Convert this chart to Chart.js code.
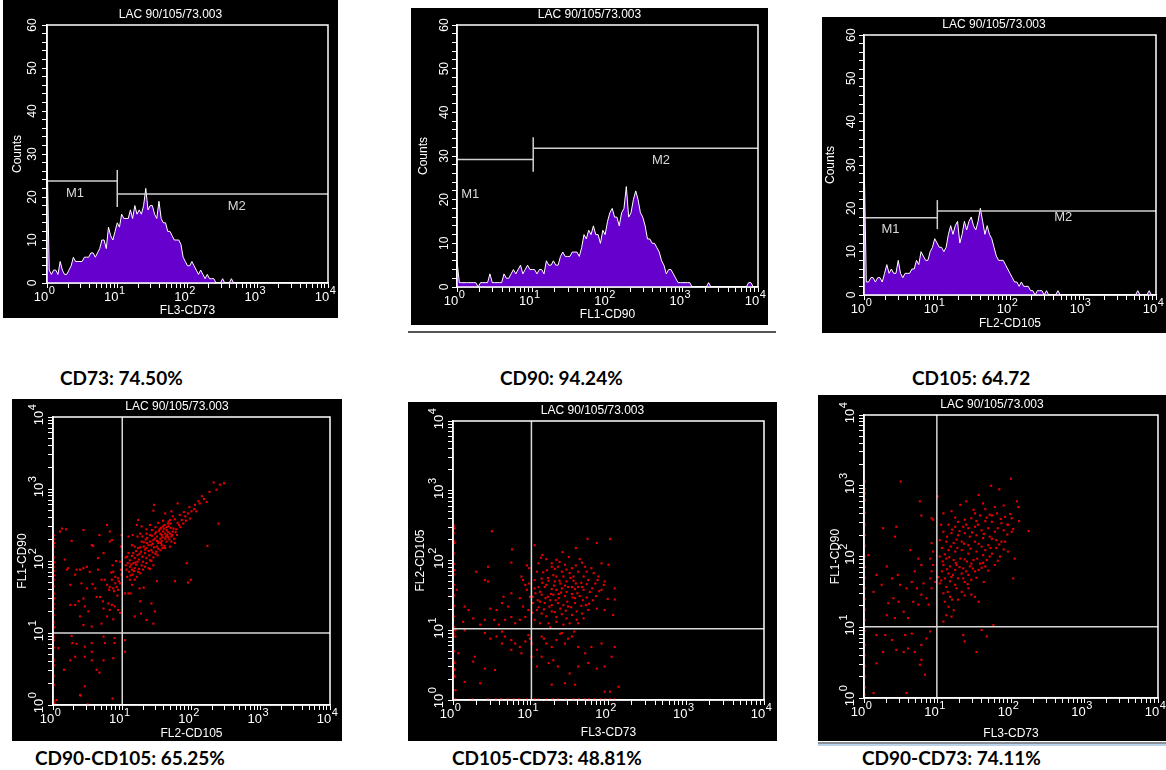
<!DOCTYPE html>
<html>
<head>
<meta charset="utf-8">
<script src="https://cdn.jsdelivr.net/npm/chart.js@4.4.1/dist/chart.umd.min.js"></script>
<style>
  body { margin: 0; background: #fff; width: 1166px; height: 770px; position: relative; overflow: hidden; }
  .panel { position: absolute; background: #000; }
  .panel canvas { display: block; }
  .caption { position: absolute; font-family: Lato, "Open Sans", sans-serif; font-weight: 700; font-size: 19px; line-height: 20px; color: #000; white-space: nowrap; }
  .rule { position: absolute; }
</style>
</head>
<body>
<script>
// decade tick labels are drawn as 10 with a raised exponent
const decadeExponents = ['0', '1', '2', '3', '4'];
const sampleName = 'LAC 90/105/73.003';

// histogram channels: one value per 1/32 decade, starting at 10^0
const channelStep = 1 / 32;
const hist73 = [31,3,2,3,3,2,5,3,2,2, 3,4,6,5,5,5,5,6,6,6, 7,7,6,7,8,10,10,8,13,11,
  10,12,14,13,16,15,15,15,17,15, 18,16,17,16,18,22,17,18,18,16, 15,19,15,14,14,12,12,11,10,10,
  10,9,6,5,4,4,5,4,3,2, 3,2,1,2,1,1,1,0,0,0, 1,0,0,0,1,0];
const hist90 = [6,1,1,1,1,1,1,1,1,0, 1,1,1,1,3,1,1,1,1,1, 3,2,2,3,4,3,4,5,3,4,
  5,4,4,4,3,4,4,3,6,5, 5,6,5,5,7,8,7,7,7,8, 8,8,7,9,12,11,13,12,14,12,
  12,10,13,12,15,17,18,16,16,14, 17,18,23,16,17,20,22,20,17,16, 14,11,11,10,10,9,8,6,5,3,
  4,4,3,2,1,1,1,1,1,1, 0,0,0,0,0,0,0,1,0,0, 0,0,0,0,0,0,0,0,0,0, 0,0,0,0,1,1,0];
const hist105 = [33,3,3,4,4,3,4,4,3,5, 7,5,6,5,5,8,5,4,5,5, 5,6,6,8,7,10,9,8,8,10,
  11,13,12,11,11,10,11,14,16,14, 16,17,12,14,17,15,17,18,16,15, 17,20,17,14,16,14,13,11,9,8,
  8,8,7,6,5,4,3,3,2,3, 2,2,2,1,1,0,1,1,1,0, 1,0,0,0,0,1,0,0,0,0, 0,0,0,0,0,0,0,0,0,0,
  0,0,0,0,0,0,0,0,0,0, 0,0,0,0,0,0,0,0,0,0, 1,0,0,0,0,1,0];

// histogram markers: [from, to, count]
const gates73 = [[1, 10, 23.7], [10, 10000, 20.7]];
const gateTick73 = [10, 17.7, 26.3];
const gateLabels73 = [['M1', 2.5, 20.9], ['M2', 501, 17.9]];
const gates90 = [[1, 10.3, 29.2], [10.3, 10000, 31.8]];
const gateTick90 = [10.3, 26.4, 34.3];
const gateLabels90 = [['M1', 1.5, 21.3], ['M2', 513, 29.1]];
const gates105 = [[1, 10.1, 17.8], [10.1, 10000, 19.4]];
const gateTick105 = [10.1, 15.2, 21.9];
const gateLabels105 = [['M1', 2.3, 15.2], ['M2', 537, 18]];

// dot plots, [x, y] pairs in decades (log10 of channel value)
const dots90v105 = [
  2.32,3.09, 2.41,3.06, 2.47,3.08, 2.26,2.96, 2.36,2.99, 2.18,2.86, 2.22,2.82, 2.12,2.80, 2.05,2.78, 1.80,2.80,
  1.46,2.78, 1.45,2.70, 2.39,2.52, 2.23,2.21, 1.93,1.97, 1.99,1.74, 1.95,1.70, 1.76,1.72, 1.50,1.72,
  1.86,2.57, 1.91,2.62, 1.95,2.66, 2.00,2.69, 2.04,2.72, 2.07,2.69, 1.98,2.59, 1.88,2.52, 1.92,2.56, 1.82,2.50,
  1.78,2.44, 1.69,2.57, 1.67,2.55, 1.62,2.66, 1.71,2.69,
  1.59,2.41, 1.62,2.38, 1.64,2.43, 1.57,2.36, 1.65,2.36, 1.69,2.38, 1.71,2.34, 1.75,2.31, 1.55,2.31, 1.50,2.34,
  1.52,2.27, 1.45,2.29, 1.40,2.27, 1.40,2.36, 1.47,2.38, 1.54,2.44, 1.59,2.48, 1.67,2.48, 1.73,2.41, 1.79,2.36,
  1.62,2.31, 1.64,2.27, 1.57,2.22, 1.50,2.20, 1.42,2.22, 1.36,2.25, 1.35,2.18, 1.42,2.15, 1.49,2.13, 1.55,2.15,
  1.62,2.18, 1.69,2.20, 1.71,2.27, 1.76,2.25, 1.31,2.20, 1.28,2.27, 1.23,2.18, 1.27,2.13, 1.33,2.11, 1.39,2.08,
  1.45,2.05, 1.51,2.08, 1.40,2.01, 1.35,2.04, 1.22,2.08, 1.18,2.04, 1.14,2.07, 1.11,2.01, 1.16,1.97, 1.22,1.99,
  1.28,1.94, 1.33,1.92, 1.18,1.90, 1.14,1.88, 1.23,1.85, 1.11,1.92, 1.07,2.06, 1.05,1.94, 1.15,1.81, 1.21,1.78,
  1.26,1.83, 1.30,1.88, 1.38,1.90, 1.18,1.74, 1.11,1.74, 1.07,1.78, 1.14,1.67, 1.04,1.55, 1.09,1.55, 1.12,1.55,
  1.25,1.62, 1.31,1.63, 1.40,1.89, 1.45,1.94, 1.18,2.20, 1.14,2.22, 1.22,2.34, 1.26,2.38, 1.28,2.48, 1.21,2.50,
  1.23,2.57, 1.40,2.50, 1.35,2.44, 1.09,2.34, 1.15,2.36, 1.05,2.05, 1.26,1.44, 1.27,1.27, 1.35,1.18, 1.45,1.13,
  1.42,1.41, 1.18,1.23, 1.47,1.30,
  1.60,2.45, 1.66,2.40, 1.58,2.33, 1.63,2.34, 1.55,2.38, 1.68,2.30, 1.52,2.25, 1.57,2.28, 1.47,2.31, 1.44,2.24,
  1.61,2.21, 1.72,2.36, 1.74,2.45, 1.84,2.47, 1.80,2.53, 1.76,2.58, 1.66,2.52, 1.38,2.14, 1.34,2.30, 1.25,2.10,
  1.20,1.95, 1.10,1.85, 1.30,1.99, 1.42,2.00, 1.48,2.10, 1.53,2.42, 1.64,2.47,
  1.36,2.32, 1.43,2.35, 1.49,2.40, 1.56,2.46, 1.61,2.50, 1.70,2.52, 1.73,2.62, 1.83,2.64, 1.89,2.68, 1.97,2.75,
  2.10,2.83, 2.15,2.90, 1.58,2.18, 1.52,2.17, 1.46,2.19, 1.33,2.16, 1.29,2.06, 1.24,2.02, 1.19,1.98, 1.13,1.95,
  1.08,1.97, 1.06,1.88, 1.12,1.80, 1.17,1.86, 1.24,1.89, 1.35,1.97, 1.44,2.12, 1.56,2.25, 1.66,2.33, 1.77,2.40,
  1.70,2.46, 1.50,2.28, 1.38,2.22, 1.31,2.26, 1.26,2.19, 1.20,2.14, 1.16,2.11, 1.09,2.11, 1.29,2.34, 1.35,2.38,
  1.43,2.43, 1.48,2.47, 1.52,2.53, 1.59,2.56, 0.90,1.78, 0.95,1.72, 0.88,1.58, 0.93,1.52, 0.84,1.84, 0.91,2.00,
  0.85,1.74, 0.90,1.69, 0.94,1.76, 0.97,1.69, 0.92,1.64, 0.87,1.62, 0.82,1.64, 0.81,1.60, 0.94,1.60, 0.99,1.81,
  0.98,1.88, 0.86,1.94, 0.85,2.29, 0.82,2.27, 0.99,2.36, 0.98,2.20, 0.97,1.99, 0.87,1.85, 0.75,1.74, 0.70,1.74,
  0.78,1.67, 0.68,1.50, 0.72,1.44, 0.80,1.41, 0.85,1.39, 0.89,1.37, 0.94,1.32, 0.97,1.28, 0.82,1.32, 0.73,1.34,
  0.78,1.23, 0.87,1.19, 0.70,1.13, 0.63,1.50, 0.57,1.68, 0.61,1.62, 0.65,1.88, 0.58,2.21, 0.56,2.22, 0.67,2.36,
  0.78,2.50, 0.82,2.41, 0.73,2.11, 0.65,2.04, 0.49,1.92, 0.53,1.85, 0.44,1.90, 0.39,1.88, 0.41,1.69, 0.34,1.88,
  0.32,1.81, 0.25,1.67, 0.22,1.90, 0.20,1.88, 0.17,2.02, 0.27,2.28, 0.44,2.43, 0.49,1.62, 0.44,1.48, 0.37,1.44,
  0.32,1.39, 0.25,1.39, 0.46,1.37, 0.51,1.30, 0.39,1.23, 0.56,1.09, 0.44,1.11, 0.19,2.44, 0.10,2.41, 0.13,2.45,
  0.27,0.96, 0.28,0.86, 0.34,0.85, 0.46,0.81, 0.56,0.86, 0.73,0.95, 0.75,0.86, 0.89,0.93, 0.89,0.86, 1.04,0.90,
  1.04,0.74, 0.08,0.79, 0.25,0.62, 0.32,0.67, 0.46,0.67, 0.56,0.74, 0.56,0.62, 0.73,0.62, 0.87,0.65, 0.16,0.49,
  0.63,0.49, 0.67,0.45, 0.46,0.26, 0.40,0.13, 0.50,0.01, 0.86,0.09, 0.05,0.07, 0.39,0.14,
  0.01,2.36, 0.01,2.30, 0.02,2.25, 0.01,2.20, 0.01,2.05, 0.02,1.98, 0.01,1.92, 0.01,1.86, 0.02,1.80, 0.01,1.74,
  0.01,1.65, 0.01,1.55, 0.02,1.48, 0.01,1.40, 0.01,1.34, 0.01,1.25, 0.01,1.15, 0.02,1.08, 0.01,0.95, 0.01,0.90,
  0.01,0.80, 0.01,0.62, 0.01,0.55, 0.01,0.40, 0.01,0.28, 0.01,0.05, 0.02,0.02
];
const dots105v73 = [
  0.50,2.42, 1.73,2.31, 2.02,2.31, 1.85,2.25, 1.58,2.18, 1.05,2.22, 0.76,2.16, 1.41,2.12, 1.63,2.02, 1.13,2.04,
  1.20,2.02, 1.33,2.01, 0.95,1.93, 0.98,1.89, 0.75,1.97, 0.45,1.91, 0.30,1.84, 0.41,1.72, 0.45,1.70, 0.02,2.46,
  0.02,2.25, 0.02,1.86, 0.05,1.58,
  1.10,1.96, 1.27,1.96, 1.35,1.91, 1.44,1.94, 1.53,1.89, 1.70,1.91, 1.78,1.89, 1.91,1.96, 2.00,1.94, 1.08,1.84,
  1.16,1.83, 1.29,1.79, 1.40,1.84, 1.50,1.82, 1.61,1.84, 1.72,1.84, 1.81,1.82, 1.87,1.77, 1.05,1.72, 1.14,1.74,
  1.23,1.71, 1.31,1.70, 1.38,1.67, 1.46,1.70, 1.55,1.71, 1.65,1.68, 1.74,1.72, 1.83,1.67, 1.94,1.65, 1.10,1.62,
  1.18,1.62, 1.27,1.59, 1.33,1.58, 1.40,1.60, 1.48,1.62, 1.57,1.59, 1.61,1.62, 1.68,1.58, 1.76,1.55, 1.06,1.53,
  1.14,1.51, 1.22,1.48, 1.29,1.51, 1.36,1.52, 1.44,1.49, 1.53,1.52, 1.63,1.49, 1.72,1.47, 1.80,1.43, 1.91,1.58,
  2.08,1.60, 2.08,1.44, 2.06,1.22, 1.12,1.41, 1.18,1.39, 1.27,1.36, 1.35,1.39, 1.42,1.36, 1.48,1.34, 1.57,1.39,
  1.65,1.35, 1.74,1.29, 1.85,1.31, 1.95,1.29, 1.08,1.29, 1.14,1.24, 1.20,1.20, 1.27,1.27, 1.33,1.19, 1.40,1.23,
  1.46,1.17, 1.53,1.22, 1.59,1.15, 1.68,1.17, 1.05,1.15, 1.12,1.10, 1.23,1.10, 1.33,1.12, 1.42,1.08, 1.50,1.10,
  1.61,1.10, 1.03,1.48, 1.03,1.39, 1.05,1.60, 1.27,1.91, 1.33,1.77, 1.42,1.77, 1.55,1.77, 1.68,1.77, 1.20,1.65,
  1.46,1.55, 1.57,1.46, 1.36,1.46, 1.25,1.43, 1.53,1.62,
  1.15,1.68, 1.22,1.75, 1.30,1.64, 1.37,1.71, 1.44,1.64, 1.51,1.75, 1.58,1.67, 1.66,1.62, 1.72,1.66, 1.79,1.60,
  1.86,1.72, 1.12,1.55, 1.19,1.46, 1.26,1.52, 1.32,1.43, 1.39,1.54, 1.47,1.41, 1.54,1.47, 1.60,1.53, 1.67,1.43,
  1.75,1.38, 1.84,1.49, 1.10,1.33, 1.17,1.30, 1.24,1.34, 1.31,1.26, 1.38,1.31, 1.45,1.28, 1.52,1.33, 1.59,1.27,
  1.66,1.24, 1.71,1.36, 1.21,1.86, 1.31,1.88, 1.46,1.87, 1.58,1.93, 1.66,1.97, 1.37,1.98, 1.25,1.04, 1.38,0.95,
  1.17,0.88, 1.48,0.88, 1.56,0.98, 1.02,1.25, 1.09,1.43, 1.95,1.70, 1.88,1.56, 1.99,1.45, 1.15,2.08, 1.49,2.05,
  0.88,1.77, 0.90,1.72, 0.93,1.65, 0.98,1.67, 0.95,1.58, 0.99,1.48, 0.86,1.46, 0.90,1.34, 0.97,1.29, 0.93,1.19,
  0.86,1.15, 0.75,1.53, 0.65,1.48, 0.63,1.39, 0.56,1.29, 0.48,1.31, 0.41,1.15, 0.35,1.08, 0.15,1.34, 0.20,1.29,
  0.13,1.12, 0.26,1.17, 0.75,1.19, 0.80,1.10, 0.67,1.15, 0.53,1.15, 0.59,1.08, 0.71,1.34,
  0.03,1.00, 0.03,0.91, 0.15,1.00, 0.41,0.96, 0.48,0.88, 0.56,0.91, 0.63,0.98, 0.67,0.91, 0.75,0.86, 0.80,0.81,
  0.86,0.76, 0.93,0.84, 0.97,0.93, 0.99,0.88, 1.01,0.81, 1.08,0.72, 1.14,0.91, 1.20,0.81, 1.27,0.76, 1.33,0.86,
  1.40,0.96, 1.44,0.81, 1.53,0.91, 1.61,0.76, 1.70,0.67, 1.78,0.76, 1.91,0.81, 2.08,0.76, 1.14,0.62, 1.23,0.53,
  1.29,0.57, 1.35,0.48, 1.50,0.38, 1.61,0.48, 1.74,0.53, 1.85,0.45, 1.95,0.48, 2.04,0.62, 1.08,0.48, 1.01,0.62,
  0.88,0.67, 0.75,0.72, 0.63,0.81, 0.54,0.43, 0.41,0.45, 0.35,0.24, 0.15,0.26, 0.07,0.67, 0.26,0.55, 0.28,0.62,
  1.27,0.22, 1.44,0.24, 1.57,0.22, 2.02,0.12, 2.13,0.19, 1.95,0.12, 0.02,0.53, 0.02,0.43, 0.02,0.33, 0.03,0.14,
  0.03,0.01, 0.25,0.01, 0.45,0.01, 0.55,0.01, 0.62,0.01, 0.70,0.01, 0.78,0.01, 0.85,0.01, 0.95,0.01, 1.05,0.01,
  1.10,0.01, 1.20,0.01, 1.28,0.01, 1.35,0.01, 1.45,0.01, 1.55,0.01, 1.62,0.01, 1.70,0.01, 1.75,0.01, 1.82,0.01,
  1.90,0.01, 1.96,0.01, 2.02,0.01, 2.08,0.01,
  0.01,2.50, 0.01,2.40, 0.01,2.28, 0.01,2.10, 0.01,1.95, 0.01,1.80, 0.01,1.65, 0.01,1.50, 0.01,1.35, 0.01,1.20,
  0.01,1.05, 0.01,0.95, 0.01,0.70, 0.01,0.55, 0.01,0.45, 0.01,0.35
];
const dots90v73 = [
  2.00,3.10, 1.73,3.00, 1.84,2.95, 0.50,3.06, 0.01,3.06, 0.01,2.89, 1.00,2.85, 1.56,2.87, 1.39,2.78, 0.76,2.78,
  1.62,2.75, 1.78,2.70, 2.08,2.78, 2.10,2.70, 1.90,2.72, 1.65,2.67, 1.19,2.64, 1.08,2.61, 0.92,2.54, 1.31,2.73,
  0.78,2.58, 2.11,2.50, 2.24,2.36,
  1.51,2.61, 1.58,2.58, 1.71,2.59, 1.81,2.61, 1.92,2.56, 2.01,2.54, 1.46,2.54, 1.37,2.52, 1.28,2.49, 1.65,2.50,
  1.74,2.49, 1.87,2.47, 1.96,2.45, 1.15,2.45, 1.24,2.42, 1.35,2.42, 1.42,2.40, 1.51,2.42, 1.60,2.37, 1.69,2.40,
  1.78,2.35, 1.90,2.37, 2.01,2.35, 1.08,2.35, 1.19,2.33, 1.28,2.30, 1.37,2.33, 1.44,2.28, 1.53,2.30, 1.62,2.26,
  1.71,2.28, 1.80,2.23, 1.92,2.21, 2.03,2.39, 1.03,2.23, 1.12,2.21, 1.22,2.19, 1.33,2.21, 1.42,2.16, 1.51,2.21,
  1.60,2.14, 1.69,2.16, 1.80,2.12, 1.96,2.07, 1.06,2.12, 1.15,2.09, 1.24,2.07, 1.33,2.09, 1.42,2.04, 1.53,2.07,
  1.62,2.02, 1.74,2.04, 1.85,2.00, 1.03,2.00, 1.12,1.97, 1.22,1.95, 1.31,1.97, 1.40,1.93, 1.49,1.95, 1.58,1.90,
  1.67,1.95, 1.78,1.88, 1.08,1.88, 1.17,1.86, 1.26,1.88, 1.35,1.83, 1.44,1.86, 1.56,1.81, 1.65,1.86, 1.06,1.79,
  1.15,1.76, 1.24,1.81, 1.33,1.76, 1.42,1.74, 1.51,1.79, 1.01,1.71, 1.10,1.69, 1.19,1.71, 1.28,1.69, 1.37,1.64,
  1.46,1.67, 1.03,1.62, 1.12,1.57, 1.24,1.60, 1.33,1.50, 1.42,1.55, 1.08,1.48, 1.17,1.43, 1.28,1.39, 1.51,1.43,
  1.56,1.36, 1.10,1.36, 1.15,1.29, 1.22,1.24, 1.12,1.17, 1.19,1.15, 1.08,1.08, 1.46,1.46, 2.03,1.69, 2.05,1.97,
  1.87,2.21, 1.76,1.03, 0.92,2.19, 0.94,2.07, 0.90,1.97, 0.94,1.88, 0.92,1.79, 0.90,1.69, 0.97,1.64, 0.92,1.55,
  0.94,2.52,
  1.13,2.28, 1.20,2.38, 1.26,2.24, 1.30,2.36, 1.39,2.45, 1.47,2.34, 1.55,2.45, 1.63,2.32, 1.67,2.55, 1.74,2.25,
  1.82,2.40, 1.86,2.53, 1.95,2.31, 1.99,2.60, 1.10,2.03, 1.18,2.14, 1.27,2.12, 1.36,2.18, 1.45,2.11, 1.56,2.18,
  1.65,2.09, 1.72,2.12, 1.84,2.17, 1.90,2.10, 1.07,1.93, 1.16,1.99, 1.25,1.91, 1.37,1.96, 1.46,1.90, 1.54,1.97,
  1.62,1.91, 1.71,2.00, 1.82,1.94, 1.13,1.82, 1.21,1.74, 1.30,1.85, 1.39,1.79, 1.48,1.83, 1.60,1.84, 1.69,1.80,
  1.05,1.66, 1.17,1.65, 1.26,1.55, 1.35,1.69, 1.41,1.61, 1.53,1.70, 1.63,1.64, 1.14,1.50, 1.20,1.39, 1.37,1.45,
  1.05,2.45, 1.24,2.55, 1.53,2.50, 1.49,2.66, 1.74,2.58, 1.95,2.45,
  0.63,2.09, 0.74,1.97, 0.78,1.88, 0.69,1.79, 0.65,1.64, 0.81,1.62, 0.72,1.55, 0.78,1.46, 0.67,1.36, 0.74,1.32,
  0.85,1.41, 0.88,1.32, 0.58,1.55, 0.49,1.60, 0.46,1.74, 0.38,1.69, 0.31,1.86, 0.24,1.60, 0.17,1.74, 0.13,1.50,
  0.40,1.41, 0.33,1.34, 0.47,1.36, 0.54,1.22, 0.60,1.13, 0.42,1.13, 0.31,1.17, 0.26,2.40, 0.44,2.42, 0.42,2.28,
  0.06,2.02,
  0.17,0.89, 0.29,0.89, 0.38,0.82, 0.56,0.89, 0.65,0.91, 0.85,0.84, 0.90,0.94, 0.60,0.70, 0.44,0.68, 0.26,0.65,
  0.54,0.65, 0.78,0.75, 0.69,0.65, 0.17,0.49, 0.78,0.54, 0.76,0.47, 0.83,0.33, 0.58,0.07, 0.13,0.07, 1.35,0.89,
  1.37,0.80, 1.53,0.65, 1.60,0.96, 1.67,0.87,
  0.01,2.95, 0.01,2.80, 0.01,2.62, 0.01,2.45, 0.01,2.30, 0.01,2.15, 0.01,2.00, 0.01,1.85, 0.01,1.70, 0.01,1.55,
  0.01,1.40, 0.01,1.25, 0.01,1.10, 0.01,0.95, 0.01,0.75, 0.01,0.60, 0.01,0.45, 0.01,0.30, 0.01,0.15, 0.01,0.05
];

// quadrant cursor positions (channel values)
const quadX = [10, 10.2, 9.8];
const quadY = [10, 10.5, 10.2];

const captionsTop = ['CD73: 74.50%', 'CD90: 94.24%', 'CD105: 64.72'];
const captionsBottom = ['CD90-CD105: 65.25%', 'CD105-CD73: 48.81%', 'CD90-CD73: 74.11%'];

const FONT = '"Liberation Sans", Arial, sans-serif';
Chart.defaults.font.family = FONT;

// chart.js adds a 1.5 tick in every decade, the cytometer axis doesn't have it
function dropHalfTicks(scale) {
  scale.ticks = scale.ticks.filter(t => {
    const m = t.value / Math.pow(10, Math.floor(Math.log10(t.value) + 1e-9));
    return Math.abs(m - 1.5) > 1e-6;
  });
}

// "10" with the exponent raised, centred on (x, y) plus a small shift along the text
function drawPower(ctx, x, y, exp, rot, shift) {
  ctx.save();
  ctx.translate(x, y);
  ctx.rotate(rot);
  ctx.textAlign = 'left';
  ctx.textBaseline = 'middle';
  ctx.font = '13px ' + FONT;
  const w1 = ctx.measureText('10').width;
  ctx.font = '11px ' + FONT;
  const w2 = ctx.measureText(exp).width;
  const x0 = -(w1 + w2) / 2 + shift;
  ctx.font = '13px ' + FONT;
  ctx.fillText('10', x0, 2);
  ctx.font = '11px ' + FONT;
  ctx.fillText(exp, x0 + w1 + 0.5, -4);
  ctx.restore();
}

const framePlugin = {
  id: 'frame',
  afterDatasetsDraw(chart, args, opts) {
    const { ctx, chartArea: a } = chart;
    const sx = chart.scales.x, sy = chart.scales.y;
    ctx.save();
    ctx.strokeStyle = '#fff';
    ctx.lineWidth = 1.5;
    ctx.strokeRect(a.left, a.top, a.right - a.left, a.bottom - a.top);
    ctx.fillStyle = '#fff';
    ctx.font = '12px ' + FONT;
    ctx.textAlign = 'center';
    ctx.textBaseline = 'middle';
    ctx.fillText(sampleName, chart.width / 2, a.top - 10);
    decadeExponents.forEach((e, i) => {
      drawPower(ctx, sx.getPixelForValue(Math.pow(10, i)), a.bottom + 12, e, 0, -3);
      if (opts.logY) drawPower(ctx, a.left - 16, sy.getPixelForValue(Math.pow(10, i)), e, -Math.PI / 2, 2);
    });
    ctx.fillStyle = '#d8d8d8';
    ctx.font = '13px ' + FONT;
    ctx.textAlign = 'center';
    (opts.labels || []).forEach(([text, x, y]) => {
      ctx.fillText(text, sx.getPixelForValue(x), sy.getPixelForValue(y));
    });
    ctx.restore();
  }
};

function axisBase(p, isX) {
  return {
    grid: { drawOnChartArea: false, drawTicks: true, color: '#fff', tickLength: 5, lineWidth: 1 },
    border: { color: '#fff', width: 1.5 },
    afterFit: isX ? s => { s.height = p.plot.bottom; } : s => { s.width = p.plot.left; }
  };
}

function logX(p) {
  return Object.assign(axisBase(p, true), {
    type: 'logarithmic', min: 1, max: 10000,
    afterBuildTicks: dropHalfTicks,
    ticks: { autoSkip: false, minRotation: 0, maxRotation: 0, padding: 1, callback: () => '' },
    title: { display: true, text: p.xTitle, color: '#fff', font: { size: 12 }, padding: { top: 0, bottom: p.xTitlePad } }
  });
}

function yAxis(p) {
  const base = axisBase(p, false);
  const title = { display: true, text: p.yTitle, color: '#fff', font: { size: 12 }, padding: { top: p.yTitlePad, bottom: 0 } };
  if (p.kind === 'hist') {
    return Object.assign(base, {
      type: 'linear', min: 0, max: 60, title,
      ticks: {
        color: '#fff', font: { size: 12 }, autoSkip: false, minRotation: 90, maxRotation: 90, crossAlign: 'center',
        padding: p.yTickPad, stepSize: 2, callback: v => (v % 10 === 0 ? String(v) : '')
      }
    });
  }
  return Object.assign(base, {
    type: 'logarithmic', min: 1, max: 10000, title,
    afterBuildTicks: dropHalfTicks,
    ticks: { autoSkip: false, callback: () => '' }
  });
}

function histDatasets(p) {
  const line = pts => ({ type: 'line', data: pts, borderColor: '#d0d0d0', borderWidth: 1.5, pointRadius: 0, fill: false, order: 0 });
  const sets = p.gates.map(g => line([{ x: g[0], y: g[2] }, { x: g[1], y: g[2] }]));
  sets.push(line([{ x: p.gateTick[0], y: p.gateTick[1] }, { x: p.gateTick[0], y: p.gateTick[2] }]));
  sets.push({
    type: 'line',
    data: p.counts.map((c, i) => ({ x: Math.pow(10, i * channelStep), y: c })),
    borderColor: '#fff', borderWidth: 1, backgroundColor: '#6600cc',
    fill: 'origin', pointRadius: 0, tension: 0, order: 1
  });
  return sets;
}

function dotDatasets(p) {
  const pts = [];
  for (let i = 0; i < p.dots.length; i += 2) {
    pts.push({ x: Math.pow(10, p.dots[i]), y: Math.pow(10, p.dots[i + 1]) });
  }
  const line = d => ({ type: 'line', data: d, borderColor: '#d8d8d8', borderWidth: 1.5, pointRadius: 0, fill: false, order: 0 });
  return [
    line([{ x: p.qx, y: 1 }, { x: p.qx, y: 10000 }]),
    line([{ x: 1, y: p.qy }, { x: 10000, y: p.qy }]),
    { type: 'scatter', data: pts, pointStyle: 'rect', pointRadius: 1.5, backgroundColor: '#e80000', borderWidth: 0, order: 1 }
  ];
}

const panels = [
  { kind: 'hist', box: [3, 0, 335, 318], plot: { left: 44, top: 25, right: 10, bottom: 35 },
    counts: hist73, gates: gates73, gateTick: gateTick73, labels: gateLabels73,
    xTitle: 'FL3-CD73', yTitle: 'Counts', xTitlePad: 0, yTitlePad: 7, yTickPad: 3 },
  { kind: 'hist', box: [411, 8, 357, 317], plot: { left: 46, top: 17, right: 10, bottom: 38 },
    counts: hist90, gates: gates90, gateTick: gateTick90, labels: gateLabels90,
    xTitle: 'FL1-CD90', yTitle: 'Counts', xTitlePad: 3, yTitlePad: 5, yTickPad: 1 },
  { kind: 'hist', box: [822, 17, 344, 316], plot: { left: 42, top: 18, right: 10, bottom: 38 },
    counts: hist105, gates: gates105, gateTick: gateTick105, labels: gateLabels105,
    xTitle: 'FL2-CD105', yTitle: 'Counts', xTitlePad: 2, yTitlePad: 1, yTickPad: 1 },
  { kind: 'dot', box: [12, 399, 330, 342], plot: { left: 41, top: 18, right: 12, bottom: 36 },
    dots: dots90v105, qx: quadX[0], qy: quadY[0],
    xTitle: 'FL2-CD105', yTitle: 'FL1-CD90', xTitlePad: 0, yTitlePad: 3 },
  { kind: 'dot', box: [408, 402, 369, 339], plot: { left: 45, top: 19, right: 13, bottom: 41 },
    dots: dots105v73, qx: quadX[1], qy: quadY[1],
    xTitle: 'FL3-CD73', yTitle: 'FL2-CD105', xTitlePad: 1, yTitlePad: 5 },
  { kind: 'dot', box: [818, 395, 348, 346], plot: { left: 46, top: 20, right: 8, bottom: 43 },
    dots: dots90v73, qx: quadX[2], qy: quadY[2],
    xTitle: 'FL3-CD73', yTitle: 'FL1-CD90', xTitlePad: 0, yTitlePad: 10 }
];

panels.forEach(p => {
  const wrap = document.createElement('div');
  wrap.className = 'panel';
  Object.assign(wrap.style, { left: p.box[0] + 'px', top: p.box[1] + 'px', width: p.box[2] + 'px', height: p.box[3] + 'px' });
  const canvas = document.createElement('canvas');
  canvas.width = p.box[2];
  canvas.height = p.box[3];
  wrap.appendChild(canvas);
  document.body.appendChild(wrap);

  new Chart(canvas, {
    type: p.kind === 'hist' ? 'line' : 'scatter',
    data: { datasets: p.kind === 'hist' ? histDatasets(p) : dotDatasets(p) },
    options: {
      responsive: false,
      animation: false,
      devicePixelRatio: 1,
      layout: { padding: { left: 0, top: p.plot.top, right: p.plot.right, bottom: 0 } },
      plugins: {
        legend: { display: false },
        tooltip: { enabled: false },
        frame: { labels: p.labels, logY: p.kind === 'dot' }
      },
      scales: { x: logX(p), y: yAxis(p) }
    },
    plugins: [framePlugin]
  });
});

// captions under each panel
const captionPos = [[60, 368], [500, 368], [912, 368], [35, 748], [452, 748], [862, 748]];
captionsTop.concat(captionsBottom).forEach((t, i) => {
  const d = document.createElement('div');
  d.className = 'caption';
  d.textContent = t;
  d.style.left = captionPos[i][0] + 'px';
  d.style.top = captionPos[i][1] + 'px';
  document.body.appendChild(d);
});

// thin rules from the original figure layout
[[408, 331, 368, 2, '#555'], [818, 742, 348, 2, '#8a8f96'], [818, 744, 348, 2, '#b9d3ea']].forEach(r => {
  const d = document.createElement('div');
  d.className = 'rule';
  Object.assign(d.style, { left: r[0] + 'px', top: r[1] + 'px', width: r[2] + 'px', height: r[3] + 'px', background: r[4] });
  document.body.appendChild(d);
});
</script>
</body>
</html>
